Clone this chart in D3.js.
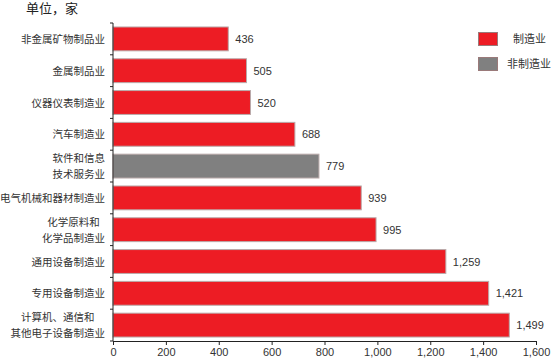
<!DOCTYPE html>
<html>
<head>
<meta charset="utf-8">
<script src="https://cdn.jsdelivr.net/npm/d3@7"></script>
<style>
  body { margin: 0; background: #fff; }
  text { font-family: "Liberation Sans", "Noto Sans CJK SC", sans-serif; fill: #333; }
</style>
</head>
<body>
<svg width="554" height="364"></svg>
<script>
// data
const categories = [
  ["非金属矿物制品业"],
  ["金属制品业"],
  ["仪器仪表制造业"],
  ["汽车制造业"],
  ["软件和信息", "技术服务业"],
  ["电气机械和器材制造业"],
  ["化学原料和", "化学品制造业"],
  ["通用设备制造业"],
  ["专用设备制造业"],
  ["计算机、通信和", "其他电子设备制造业"]
];
const values = [436, 505, 520, 688, 779, 939, 995, 1259, 1421, 1499];
const kinds = ["制造业", "制造业", "制造业", "制造业", "非制造业", "制造业", "制造业", "制造业", "制造业", "制造业"];
const legendLabels = ["制造业", "非制造业"];
const xTicks = [0, 200, 400, 600, 800, 1000, 1200, 1400, 1600];

const colors = { "制造业": "#ed1c24", "非制造业": "#808080" };

const svg = d3.select("svg");
const mLeft = 113, mRight = 536, mTop = 23, mBottom = 341;

const x = d3.scaleLinear().domain([0, 1600]).range([mLeft, mRight]);
const y = d3.scaleBand().domain(d3.range(categories.length)).range([mTop, mBottom]).paddingInner(0.25).paddingOuter(0.125);

// title
svg.append("text").attr("x", 26).attr("y", 13).style("font-size", "13px").style("fill", "#222").text("单位，家");

// bars
svg.selectAll("rect.bar")
  .data(values)
  .join("rect")
  .attr("class", "bar")
  .attr("x", x(0))
  .attr("y", (d, i) => y(i))
  .attr("width", d => x(d) - x(0))
  .attr("height", y.bandwidth())
  .style("fill", (d, i) => colors[kinds[i]])
  .style("stroke", "#b9aaaa")
  .style("stroke-width", 1);

// value labels
svg.selectAll("text.val")
  .data(values)
  .join("text")
  .attr("class", "val")
  .attr("x", d => x(d) + 7)
  .attr("y", (d, i) => y(i) + y.bandwidth() / 2 + 4)
  .style("font-size", "11px")
  .text(d => d3.format(",")(d));

// category labels
const labelRight = 105;
categories.forEach((lines, i) => {
  const cy = y(i) + y.bandwidth() / 2;
  const t = svg.append("text").style("font-size", "10.5px");
  if (lines.length === 1) {
    t.attr("text-anchor", "end").attr("x", labelRight).attr("y", cy + 4).text(lines[0]);
  } else {
    const w = 10.5 * d3.max(lines, l => l.length);
    t.attr("text-anchor", "middle");
    lines.forEach((l, j) => {
      t.append("tspan").attr("x", labelRight - w / 2).attr("y", cy + 4 + (j - 0.5) * 16).text(l);
    });
  }
});

// y axis line with ticks at band boundaries
const yAxis = svg.append("g");
yAxis.append("line").attr("x1", mLeft).attr("x2", mLeft).attr("y1", mTop).attr("y2", mBottom).style("stroke", "#222");
const step = (mBottom - mTop) / categories.length;
d3.range(categories.length + 1).forEach(k => {
  yAxis.append("line").attr("x1", mLeft - 3).attr("x2", mLeft).attr("y1", mTop + k * step).attr("y2", mTop + k * step).style("stroke", "#222");
});

// x axis
const xAxis = svg.append("g")
  .attr("transform", `translate(0,${mBottom})`)
  .call(d3.axisBottom(x).tickValues(xTicks).tickSize(4).tickFormat(d3.format(",")));
xAxis.select(".domain").style("stroke", "#222");
xAxis.selectAll(".tick line").style("stroke", "#222");
xAxis.selectAll("text").style("font-size", "11px").style("fill", "#333").style("font-family", "Liberation Sans, sans-serif");

// legend
const legend = svg.append("g");
legendLabels.forEach((lab, i) => {
  legend.append("rect").attr("x", 478.5).attr("y", 32.5 + i * 25).attr("width", 19).attr("height", 13)
    .style("fill", colors[lab]).style("stroke", "#9a7a7a");
  legend.append("text").attr("x", i === 0 ? 513 : 507).attr("y", 43 + i * 25).style("font-size", "11px").text(lab);
});
</script>
</body>
</html>
